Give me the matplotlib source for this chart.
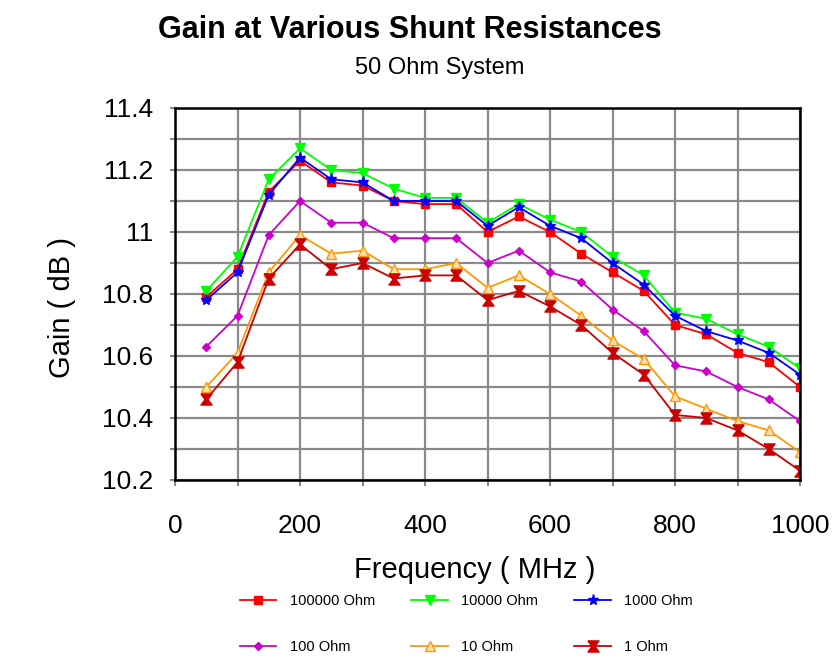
import numpy as np
import matplotlib
matplotlib.use("Agg")
import matplotlib.pyplot as plt
from matplotlib.ticker import MultipleLocator, FuncFormatter

plt.rcParams['font.family'] = ['Liberation Sans', 'DejaVu Sans']

# Data
freq = [50, 100, 150, 200, 250, 300, 350, 400, 450, 500,
        550, 600, 650, 700, 750, 800, 850, 900, 950, 1000]

ohm_100000 = [10.79, 10.88, 11.13, 11.23, 11.16, 11.15, 11.10, 11.09, 11.09, 11.00,
              11.05, 11.00, 10.93, 10.87, 10.81, 10.70, 10.67, 10.61, 10.58, 10.50]
ohm_10000 = [10.81, 10.92, 11.17, 11.27, 11.20, 11.19, 11.14, 11.11, 11.11, 11.03,
             11.09, 11.04, 11.00, 10.92, 10.86, 10.74, 10.72, 10.67, 10.63, 10.56]
ohm_1000 = [10.78, 10.87, 11.12, 11.24, 11.17, 11.16, 11.10, 11.10, 11.10, 11.02,
            11.08, 11.02, 10.98, 10.90, 10.83, 10.73, 10.68, 10.65, 10.61, 10.54]
ohm_100 = [10.63, 10.73, 10.99, 11.10, 11.03, 11.03, 10.98, 10.98, 10.98, 10.90,
           10.94, 10.87, 10.84, 10.75, 10.68, 10.57, 10.55, 10.50, 10.46, 10.39]
ohm_10 = [10.50, 10.61, 10.87, 10.99, 10.93, 10.94, 10.88, 10.88, 10.90, 10.82,
          10.86, 10.80, 10.73, 10.65, 10.59, 10.47, 10.43, 10.39, 10.36, 10.29]
ohm_1 = [10.46, 10.58, 10.85, 10.96, 10.88, 10.90, 10.85, 10.86, 10.86, 10.78,
         10.81, 10.76, 10.70, 10.61, 10.54, 10.41, 10.40, 10.36, 10.30, 10.23]

labels = ["100000 Ohm", "10000 Ohm", "1000 Ohm", "100 Ohm", "10 Ohm", "1 Ohm"]
series = [ohm_100000, ohm_10000, ohm_1000, ohm_100, ohm_10, ohm_1]
colors = ["#ff0000", "#00ff00", "#0000ff", "#cc00cc", "#ff9900", "#cc0000"]

hourglass = [(-1, 1), (1, 1), (0.25, 0), (1, -1), (-1, -1), (-0.25, 0), (-1, 1)]
markers = ["s", "v", "*", "D", "^", hourglass]
msizes = [6, 7, 8, 4, 7, 8]
faces = ["#ff0000", "#00ff00", "#0000ff", "#cc00cc", "#ffe0b0", "#cc0000"]

fig = plt.figure(figsize=(8.38, 6.58), dpi=100)
ax = fig.add_axes([175 / 838, 1 - 480 / 658, 625 / 838, 372 / 658])

handles = []
for vals, lab, c, m, ms, fc in zip(series, labels, colors, markers, msizes, faces):
    h, = ax.plot(freq, vals, color=c, lw=1.3, marker=m, markersize=ms,
                 markerfacecolor=fc, markeredgecolor=c, markeredgewidth=1, label=lab)
    handles.append(h)

ax.set_xlim(0, 1000)
ax.set_ylim(10.2, 11.4)
ax.xaxis.set_major_locator(MultipleLocator(200))
ax.xaxis.set_minor_locator(MultipleLocator(100))
ax.yaxis.set_major_locator(MultipleLocator(0.2))
ax.yaxis.set_minor_locator(MultipleLocator(0.1))
ax.yaxis.set_major_formatter(FuncFormatter(lambda v, p: "%g" % round(v, 2)))
ax.grid(True, which="both", color="#8a8a8a", lw=1.6)
ax.set_axisbelow(True)
ax.tick_params(which="both", direction="out", color="#8a8a8a", width=1.5, labelsize=19)
ax.tick_params(axis="x", which="both", length=4.5, pad=20)
ax.tick_params(axis="y", which="both", length=3.5, pad=12)
for s in ax.spines.values():
    s.set_color("black")
    s.set_linewidth(1.8)

fig.text(410 / 838, 1 - 38 / 658, "Gain at Various Shunt Resistances",
         ha="center", va="baseline", fontsize=22, fontweight="bold")
fig.text(440 / 838, 1 - 74 / 658, "50 Ohm System", ha="center", va="baseline", fontsize=17)
fig.text(62 / 838, 1 - 307 / 658, "Gain ( dB )", ha="center", va="center",
         rotation=90, fontsize=21)
fig.text(475 / 838, 1 - 570 / 658, "Frequency ( MHz )", ha="center", va="center", fontsize=21)

order = [0, 3, 1, 4, 2, 5]
fig.legend([handles[i] for i in order], [labels[i] for i in order],
           ncol=3, loc="upper left", bbox_to_anchor=(240 / 838, 1 - 594 / 658),
           borderpad=0, borderaxespad=0, frameon=False, fontsize=10.5,
           columnspacing=2.5, labelspacing=2.2, handlelength=2.5, handletextpad=0.9)

plt.savefig("out.png", dpi=100)
